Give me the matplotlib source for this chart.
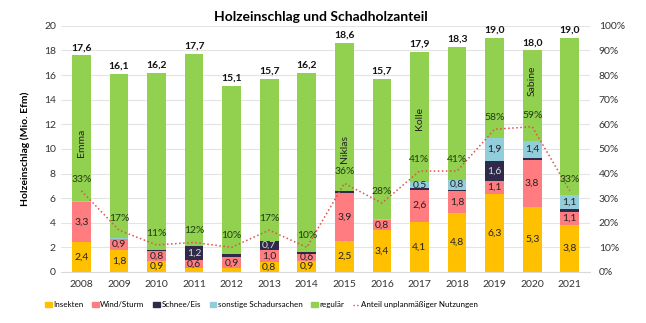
import numpy as np
import matplotlib.pyplot as plt
from matplotlib.lines import Line2D
from matplotlib.patches import Patch

plt.rcParams['font.family'] = ['Lato', 'DejaVu Sans']

years = ['2008', '2009', '2010', '2011', '2012', '2013', '2014',
         '2015', '2016', '2017', '2018', '2019', '2020', '2021']
totals = [17.6, 16.1, 16.2, 17.7, 15.1, 15.7, 16.2, 18.6, 15.7, 17.9, 18.3, 19.0, 18.0, 19.0]
insekten = [2.4, 1.8, 0.9, 0.35, 0.3, 0.8, 0.9, 2.5, 3.4, 4.1, 4.8, 6.3, 5.3, 3.8]
wind = [3.3, 0.9, 0.8, 0.6, 0.9, 1.0, 0.6, 3.9, 0.8, 2.6, 1.8, 1.1, 3.8, 1.1]
schnee = [0.0, 0.0, 0.1, 1.2, 0.3, 0.7, 0.1, 0.15, 0.05, 0.1, 0.1, 1.6, 0.15, 0.25]
sonstige = [0.05, 0.05, 0.0, 0.0, 0.0, 0.05, 0.0, 0.05, 0.05, 0.5, 0.8, 1.9, 1.4, 1.1]
anteil = [33, 17, 11, 12, 10, 17, 10, 36, 28, 41, 41, 58, 59, 33]
stuerme = {0: ('Emma', 10.5), 7: ('Niklas', 10.0), 9: ('Kolle', 12.5), 12: ('Sabine', 15.5)}

regulaer = [t - a - b - c - d for t, a, b, c, d in zip(totals, insekten, wind, schnee, sonstige)]

c_ins = '#FFC000'
c_wind = '#FF7C80'
c_schnee = '#2F2A4A'
c_sonst = '#92CDDC'
c_reg = '#92D050'
c_line = '#E0504A'

fig = plt.figure(figsize=(6.46, 3.23), dpi=100)
ax = fig.add_axes([0.094, 0.158, 0.82, 0.762])
x = np.arange(len(years))
w = 0.5

series = [(insekten, c_ins, 'Insekten', '#222222'),
          (wind, c_wind, 'Wind/Sturm', '#222222'),
          (schnee, c_schnee, 'Schnee/Eis', '#DDDDDD'),
          (sonstige, c_sonst, 'sonstige Schadursachen', '#222222'),
          (regulaer, c_reg, 'regulär', '#222222')]
bottom = np.zeros(len(years))
for vals, col, name, tcol in series:
    vals = np.array(vals)
    ax.bar(x, vals, w, bottom=bottom, color=col, zorder=2)
    if name != 'regulär':
        for i, v in enumerate(vals):
            if v >= 0.5:
                ax.text(x[i], bottom[i] + v / 2, f'{v:.1f}'.replace('.', ','),
                        ha='center', va='center', fontsize=7.5, color=tcol, zorder=4)
    bottom += vals

for i, t in enumerate(totals):
    ax.text(x[i], t + 0.25, f'{t:.1f}'.replace('.', ','), ha='center', va='bottom',
            fontsize=7.5, fontweight='bold', color='#111111')

for i, (name, yy) in stuerme.items():
    ax.text(x[i], yy, name, rotation=90, ha='center', va='center', fontsize=7.5, color='#222222')

ax.set_ylim(0, 20)
ax.set_yticks(range(0, 21, 2))
ax.set_xlim(-0.55, len(years) - 0.45)
ax.set_xticks(x)
ax.set_xticklabels(years)
ax.grid(axis='y', color='#E4E4E4', lw=0.8, zorder=0)
for s in ['top', 'right', 'left']:
    ax.spines[s].set_visible(False)
ax.spines['bottom'].set_color('#D9D9D9')
ax.tick_params(axis='both', length=0, labelsize=7.5, colors='#333333')
ax.tick_params(axis='x', pad=6)
ax.set_ylabel('Holzeinschlag (Mio. Efm)', fontsize=7.5, fontweight='bold', labelpad=10)

ax2 = ax.twinx()
ax2.set_ylim(0, 100)
ax2.set_yticks(range(0, 101, 10))
ax2.set_yticklabels([f'{p}%' for p in range(0, 101, 10)])
ax2.tick_params(axis='y', length=0, labelsize=7.5, colors='#333333', pad=6)
for s in ax2.spines.values():
    s.set_visible(False)
ax2.plot(x, anteil, ls=':', color=c_line, lw=1.1, zorder=3)
for i, p in enumerate(anteil):
    ax2.annotate(f'{p}%', (x[i], p), xytext=(0, 5), textcoords='offset points',
                 ha='center', va='bottom', fontsize=7.5, color='#1E3D10')

fig.text(0.497, 0.947, 'Holzeinschlag und Schadholzanteil', ha='center', va='center',
         fontsize=10, fontweight='bold')

handles = [Patch(color=c_ins, label='Insekten'),
           Patch(color=c_wind, label='Wind/Sturm'),
           Patch(color=c_schnee, label='Schnee/Eis'),
           Patch(color=c_sonst, label='sonstige Schadursachen'),
           Patch(color=c_reg, label='regulär'),
           Line2D([], [], ls=':', color=c_line, lw=1.0, label='Anteil unplanmäßiger Nutzungen')]
fig.legend(handles=handles, loc='center', bbox_to_anchor=(0.405, 0.056), ncol=6, frameon=False,
           fontsize=5.8, handlelength=0.8, handleheight=0.5, handletextpad=0.2, columnspacing=1.1)

fig.savefig('out.png', dpi=100)
